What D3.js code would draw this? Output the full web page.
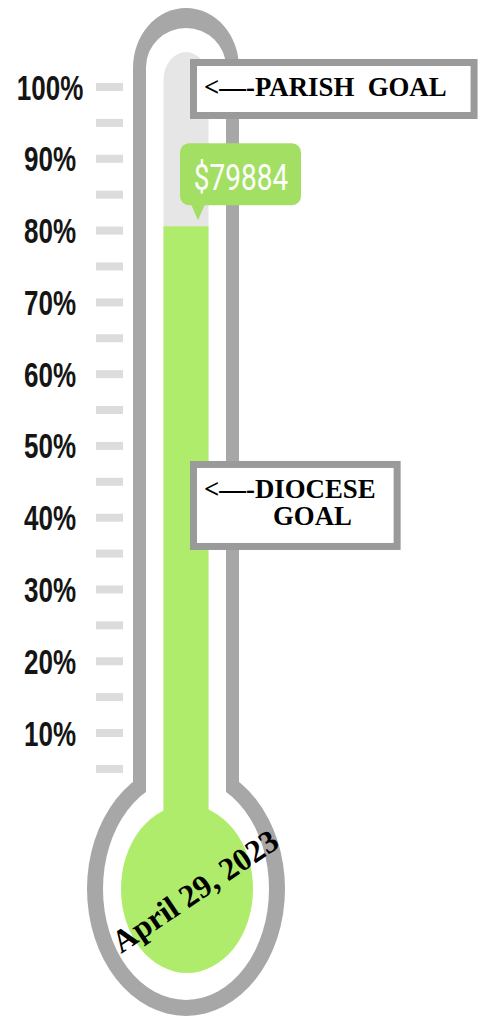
<!DOCTYPE html>
<html>
<head>
<meta charset="utf-8">
<script src="https://cdn.jsdelivr.net/npm/d3@7"></script>
<style>
  html, body { margin: 0; padding: 0; background: #fff; }
  svg { display: block; }
</style>
</head>
<body>
<svg id="chart" width="482" height="1017"></svg>
<script>
// Thermometer fundraiser chart

// --- data ---
const tickValues = [10, 20, 30, 40, 50, 60, 70, 80, 90, 100];
const tickLabels = ["10%", "20%", "30%", "40%", "50%", "60%", "70%", "80%", "90%", "100%"];
const minorTicks = [5, 15, 25, 35, 45, 55, 65, 75, 85, 95];
const raisedAmount = 79884;
const filledPct = 80.6;
const goalPcts = [100, 44];
const goalLines = [["<—-PARISH  GOAL"], ["<—-DIOCESE", "GOAL"]];
const dateLabel = "April 29, 2023";

// --- colours ---
const outlineColor = "#a8a7a8";
const trackColor = "#e6e6e6";
const fillColor = "#b0ec6c";
const calloutColor = "#a3df62";
const tickColor = "#dcdcdc";
const boxStroke = "#9a9a9a";

const svg = d3.select("#chart");

const y = d3.scaleLinear().domain([0, 100]).range([804.8, 87]);

const cx = 186;
const bulbY = 889;

// Outer glass (gray)
const glass = svg.append("g").attr("class", "glass");
glass.append("path")
  .attr("d", `M${cx - 53},800 V68 A53 60 0 0 1 ${cx + 53},68 V800 Z`)
  .attr("fill", outlineColor);
glass.append("ellipse")
  .attr("cx", cx).attr("cy", bulbY).attr("rx", 99).attr("ry", 127)
  .attr("fill", outlineColor);

// Inner white
glass.append("path")
  .attr("d", `M${cx - 40},810 V67 A40 39 0 0 1 ${cx + 40},67 V810 Z`)
  .attr("fill", "#fff");
glass.append("ellipse")
  .attr("cx", cx).attr("cy", bulbY).attr("rx", 83).attr("ry", 111)
  .attr("fill", "#fff");

// Track
glass.append("path")
  .attr("d", `M${cx - 22.5},830 V80 A22.5 28 0 0 1 ${cx + 22.5},80 V830 Z`)
  .attr("fill", trackColor);

// Fill (mercury)
const fillTop = y(filledPct);
glass.append("rect")
  .attr("x", cx - 22.5).attr("y", fillTop)
  .attr("width", 45).attr("height", 830 - fillTop)
  .attr("fill", fillColor);
glass.append("ellipse")
  .attr("cx", cx + 1).attr("cy", bulbY).attr("rx", 66).attr("ry", 84)
  .attr("fill", fillColor);

// Ticks
svg.append("g").selectAll("rect")
  .data(minorTicks.concat(tickValues))
  .join("rect")
  .attr("x", 96).attr("width", 27)
  .attr("y", d => y(d) - 4).attr("height", 8)
  .attr("fill", tickColor);

// Tick labels
svg.append("g").selectAll("text")
  .data(tickValues)
  .join("text")
  .attr("transform", d => `translate(50, ${y(d) + 12.5}) scale(1, 1.35)`)
  .attr("text-anchor", "middle")
  .style("font-family", "'Liberation Sans', Arial, sans-serif")
  .style("font-weight", "bold")
  .style("font-size", "26px")
  .style("fill", "#151515")
  .text((d, i) => tickLabels[i]);

// Callout with raised amount
const tipY = fillTop - 6;
const callout = svg.append("g").attr("class", "callout");
callout.append("rect")
  .attr("x", 180).attr("y", tipY - 77)
  .attr("width", 121).attr("height", 62)
  .attr("rx", 9)
  .attr("fill", calloutColor);
callout.append("path")
  .attr("d", `M191,${tipY - 16} L205,${tipY - 16} L198,${tipY} Z`)
  .attr("fill", calloutColor);
callout.append("text")
  .attr("transform", `translate(241, ${tipY - 30}) scale(1, 1.35)`)
  .attr("text-anchor", "middle")
  .style("font-family", "Roboto, 'Liberation Sans', sans-serif")
  .style("font-size", "28px")
  .style("fill", "#fff")
  .text("$" + raisedAmount);

// Goal boxes
goalPcts.forEach((pct, i) => {
  const arrowY = y(pct);
  const lines = goalLines[i];
  const g = svg.append("g").attr("class", "goal");
  const box = g.append("rect")
    .attr("fill", "#fff")
    .attr("stroke", boxStroke)
    .attr("stroke-width", 7);
  const font = t => t
    .attr("xml:space", "preserve")
    .style("white-space", "pre")
    .style("font-family", "'Liberation Serif', 'Times New Roman', serif")
    .style("font-weight", "bold")
    .style("font-size", "26.8px")
    .style("fill", "#000");
  let textRight = 0;
  lines.forEach((line, j) => {
    const t = g.append("text")
      .attr("x", j === 0 ? 204 : 273)
      .attr("y", arrowY + 9 + j * 27)
      .call(font)
      .text(line);
    const bb = t.node().getBBox();
    textRight = Math.max(textRight, bb.x + bb.width);
  });
  const top = arrowY - 28;
  const bottom = top + (lines.length === 1 ? 60 : 89);
  const right = textRight + (lines.length === 1 ? 31 : 25);
  box.attr("x", 193.5).attr("y", top + 3.5)
    .attr("width", right - 190 - 7).attr("height", bottom - top - 7);
});

// Date in the bulb
svg.append("text")
  .attr("transform", `translate(201, 900) rotate(-34)`)
  .attr("text-anchor", "middle")
  .style("font-family", "'Liberation Serif', 'Times New Roman', serif")
  .style("font-weight", "bold")
  .style("font-size", "32px")
  .style("fill", "#000")
  .text(dateLabel);
</script>
</body>
</html>
